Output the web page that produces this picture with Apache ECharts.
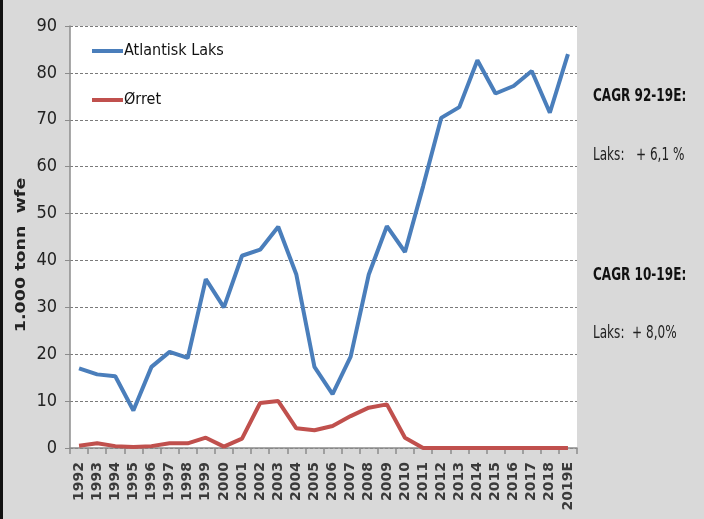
<!DOCTYPE html>
<html>
<head>
<meta charset="utf-8">
<script src="https://cdn.jsdelivr.net/npm/echarts@6/dist/echarts.min.js"></script>
<style>
  html, body { margin: 0; padding: 0; background: #d9d9d9; }
  #chart { width: 704px; height: 519px; border-left: 3px solid #111; box-sizing: border-box; }
</style>
</head>
<body>
<div id="chart"></div>
<script>
const years = ['1992', '1993', '1994', '1995', '1996', '1997', '1998', '1999', '2000', '2001',
  '2002', '2003', '2004', '2005', '2006', '2007', '2008', '2009', '2010', '2011',
  '2012', '2013', '2014', '2015', '2016', '2017', '2018', '2019E'];
const laks = [17, 15.7, 15.3, 8, 17.3, 20.5, 19.2, 36, 30, 41,
  42.3, 47.2, 37, 17.3, 11.5, 19.5, 37, 47.3, 41.8, 55.8,
  70.4, 72.7, 82.7, 75.6, 77.2, 80.4, 71.5, 84];
const orret = [0.5, 1, 0.4, 0.2, 0.4, 1, 1, 2.2, 0.3, 2,
  9.6, 10, 4.2, 3.8, 4.7, 6.8, 8.6, 9.3, 2.2, 0,
  0, 0, 0, 0, 0, 0, 0, 0];
const yTicks = [0, 10, 20, 30, 40, 50, 60, 70, 80, 90];

const narrow = "'DejaVu Sans Condensed', 'DejaVu Sans', sans-serif";
const chart = echarts.init(document.getElementById('chart'));

// the source picture is stretched vertically, so side texts are squeezed in x
const sideText = (x, y, text, bold) => ({
  type: 'text', x: x, y: y, scaleX: 0.67,
  style: {
    text: text, fontFamily: 'DejaVu Sans', fontWeight: bold ? 'bold' : 'normal',
    fontSize: 18, fill: bold ? '#111' : '#222', verticalAlign: 'middle'
  }
});

chart.setOption({
  backgroundColor: '#d9d9d9',
  animation: false,
  grid: { left: 67, right: 127, top: 26, bottom: 71, show: true, backgroundColor: '#ffffff', borderWidth: 0 },
  legend: {
    orient: 'vertical',
    left: 89,
    top: 43,
    padding: 0,
    itemGap: 33,
    itemWidth: 31,
    itemHeight: 4,
    icon: 'rect',
    textStyle: { fontFamily: narrow, fontSize: 16, color: '#111', padding: [0, 0, 0, -4] },
    data: ['Atlantisk Laks', 'Ørret']
  },
  xAxis: {
    type: 'category',
    data: years,
    boundaryGap: true,
    axisLine: { lineStyle: { color: '#8c8c8c', width: 1.5 } },
    axisTick: { show: true, length: 6, lineStyle: { color: '#8c8c8c', width: 1.5 } },
    axisLabel: {
      rotate: 90, interval: 0, margin: 14,
      fontFamily: 'DejaVu Sans', fontWeight: 'bold', fontSize: 14, color: '#3a3a3a'
    }
  },
  yAxis: {
    type: 'value',
    min: yTicks[0],
    max: yTicks[yTicks.length - 1],
    interval: 10,
    axisLine: { show: true, lineStyle: { color: '#8c8c8c', width: 1.5 } },
    axisTick: { show: true, length: 5, lineStyle: { color: '#8c8c8c' } },
    axisLabel: { fontFamily: narrow, fontSize: 18, color: '#222', margin: 13 },
    splitLine: { lineStyle: { color: '#7a7a7a', type: [3, 2], width: 1 } }
  },
  series: [
    {
      name: 'Atlantisk Laks', type: 'line', data: laks,
      symbol: 'none', color: '#4a7ebb',
      lineStyle: { width: 4, color: '#4a7ebb' }
    },
    {
      name: 'Ørret', type: 'line', data: orret,
      symbol: 'none', color: '#c0504d',
      lineStyle: { width: 4, color: '#c0504d' }
    }
  ],
  graphic: [
    {
      type: 'text', x: 18, y: 255, rotation: Math.PI / 2, scaleX: 1.25,
      style: {
        text: '1.000 tonn  wfe', fontFamily: 'DejaVu Sans', fontWeight: 'bold',
        fontSize: 14, fill: '#222', align: 'center', verticalAlign: 'middle'
      }
    },
    sideText(590, 96, 'CAGR 92-19E:', true),
    sideText(590, 155, 'Laks:   + 6,1 %', false),
    sideText(590, 275, 'CAGR 10-19E:', true),
    sideText(590, 333, 'Laks:  + 8,0%', false)
  ]
});
</script>
</body>
</html>
